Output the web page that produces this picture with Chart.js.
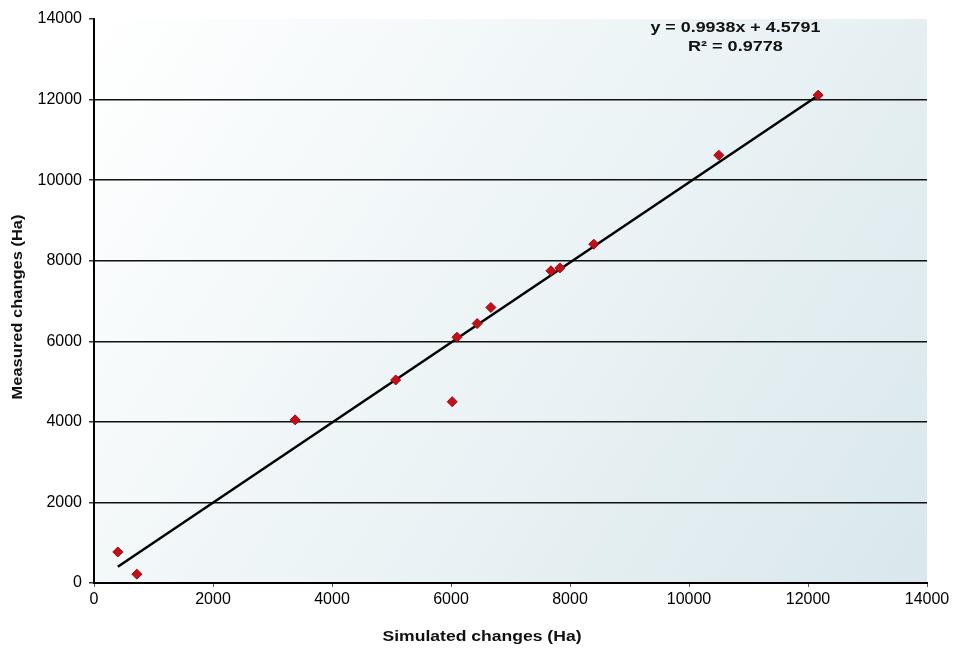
<!DOCTYPE html>
<html lang="en">
<head>
<meta charset="UTF-8">
<title>Measured vs simulated changes</title>
<style>
  html, body { margin: 0; padding: 0; background: #fff; }
  #box { width: 956px; height: 651px; }
</style>
</head>
<body>
<div id="box"><canvas id="myChart" width="956" height="651"></canvas></div>
<script src="https://cdn.jsdelivr.net/npm/chart.js"></script>
<script>
  // values
  var simulated = [400, 720, 3380, 5070, 6020, 6100, 6440, 6670, 7680, 7830, 8400, 10500, 12170];
  var measured  = [770, 220, 4050, 5040, 4500, 6100, 6440, 6840, 7750, 7820, 8410, 10620, 12110];
  var trendX = [400, 12170];
  var trendY = [402, 12099];
  var tickValues = [0, 2000, 4000, 6000, 8000, 10000, 12000, 14000];
  var equationText = ["y = 0.9938x + 4.5791", "R\u00b2 = 0.9778"];
  var xTitle = "Simulated changes (Ha)";
  var yTitle = "Measured changes (Ha)";

  var pts = simulated.map(function (x, i) { return { x: x, y: measured[i] }; });
  var line = trendX.map(function (x, i) { return { x: x, y: trendY[i] }; });

  var FONT = "'Liberation Sans', Arial, sans-serif";
  Chart.defaults.font.family = FONT;
  Chart.defaults.color = "#000";

  // stretched bold text, the scan looks wider than plain Arial
  function wideText(ctx, txt, x, y, width, rot) {
    ctx.save();
    ctx.translate(x, y);
    if (rot) ctx.rotate(rot);
    var w = ctx.measureText(txt).width;
    ctx.scale(width / w, 1);
    ctx.fillText(txt, 0, 0);
    ctx.restore();
  }

  var bgPlugin = {
    id: "bg",
    beforeDraw: function (chart) {
      var a = chart.chartArea, ctx = chart.ctx;
      var g = ctx.createLinearGradient(a.left, a.top, a.right, a.bottom);
      g.addColorStop(0, "#ffffff");
      g.addColorStop(0.45, "#eef5f7");
      g.addColorStop(1, "#d9e7ec");
      ctx.save();
      ctx.fillStyle = g;
      ctx.fillRect(a.left, a.top, a.right - a.left, a.bottom - a.top);
      ctx.restore();
    },
    afterDraw: function (chart) {
      var ctx = chart.ctx;
      var a = chart.chartArea;
      ctx.save();
      ctx.fillStyle = "#111";
      ctx.textAlign = "center";
      ctx.textBaseline = "middle";
      ctx.font = "bold 15px " + FONT;
      var cx = chart.scales.x.getPixelForValue(10780);
      wideText(ctx, equationText[0], cx, 28, 170);
      wideText(ctx, equationText[1], cx, 47, 95);
      // axis titles
      wideText(ctx, xTitle, 482, 637, 199);
      wideText(ctx, yTitle, 18, (a.top + a.bottom) / 2 + 6, 185, -Math.PI / 2);
      ctx.restore();
    }
  };

  const config = {
    type: "scatter",
    data: {
      datasets: [
        {
          label: "trend",
          type: "line",
          data: line,
          borderColor: "#000",
          borderWidth: 2.5,
          pointRadius: 0,
          fill: false,
          order: 2
        },
        {
          label: "changes",
          data: pts,
          pointStyle: "rectRot",
          pointRadius: 5,
          backgroundColor: "#c0101a",
          borderColor: "#b00010",
          borderWidth: 1,
          order: 1
        }
      ]
    },
    options: {
      responsive: false,
      animation: false,
      layout: { padding: { left: 0, right: 29, top: 19, bottom: 0 } },
      plugins: {
        legend: { display: false },
        tooltip: { enabled: false }
      },
      scales: {
        x: {
          type: "linear",
          min: 0,
          max: 14000,
          afterBuildTicks: function (s) { s.ticks = tickValues.map(function (v) { return { value: v }; }); },
          afterFit: function (s) { s.height = 68; },
          ticks: {
            font: { size: 16 },
            padding: 3,
            maxRotation: 0,
            callback: function (v) { return String(v); }
          },
          grid: { drawOnChartArea: false, tickLength: 4, color: "#000", tickColor: "#555" },
          border: { color: "#000", width: 2 }
        },
        y: {
          type: "linear",
          min: 0,
          max: 14000,
          afterBuildTicks: function (s) { s.ticks = tickValues.map(function (v) { return { value: v }; }); },
          afterFit: function (s) { s.width = 94; },
          ticks: {
            font: { size: 16 },
            padding: 7,
            callback: function (v) { return String(v); }
          },
          grid: {
            tickLength: 5,
            lineWidth: 1.5,
            color: function (c) { return c.tick && c.tick.value === 14000 ? "rgba(0,0,0,0)" : "#111"; },
            tickColor: "#333"
          },
          border: { color: "#000", width: 2 }
        }
      }
    },
    plugins: [bgPlugin]
  };

  const myChart = new Chart(document.getElementById("myChart"), config);
</script>
</body>
</html>
